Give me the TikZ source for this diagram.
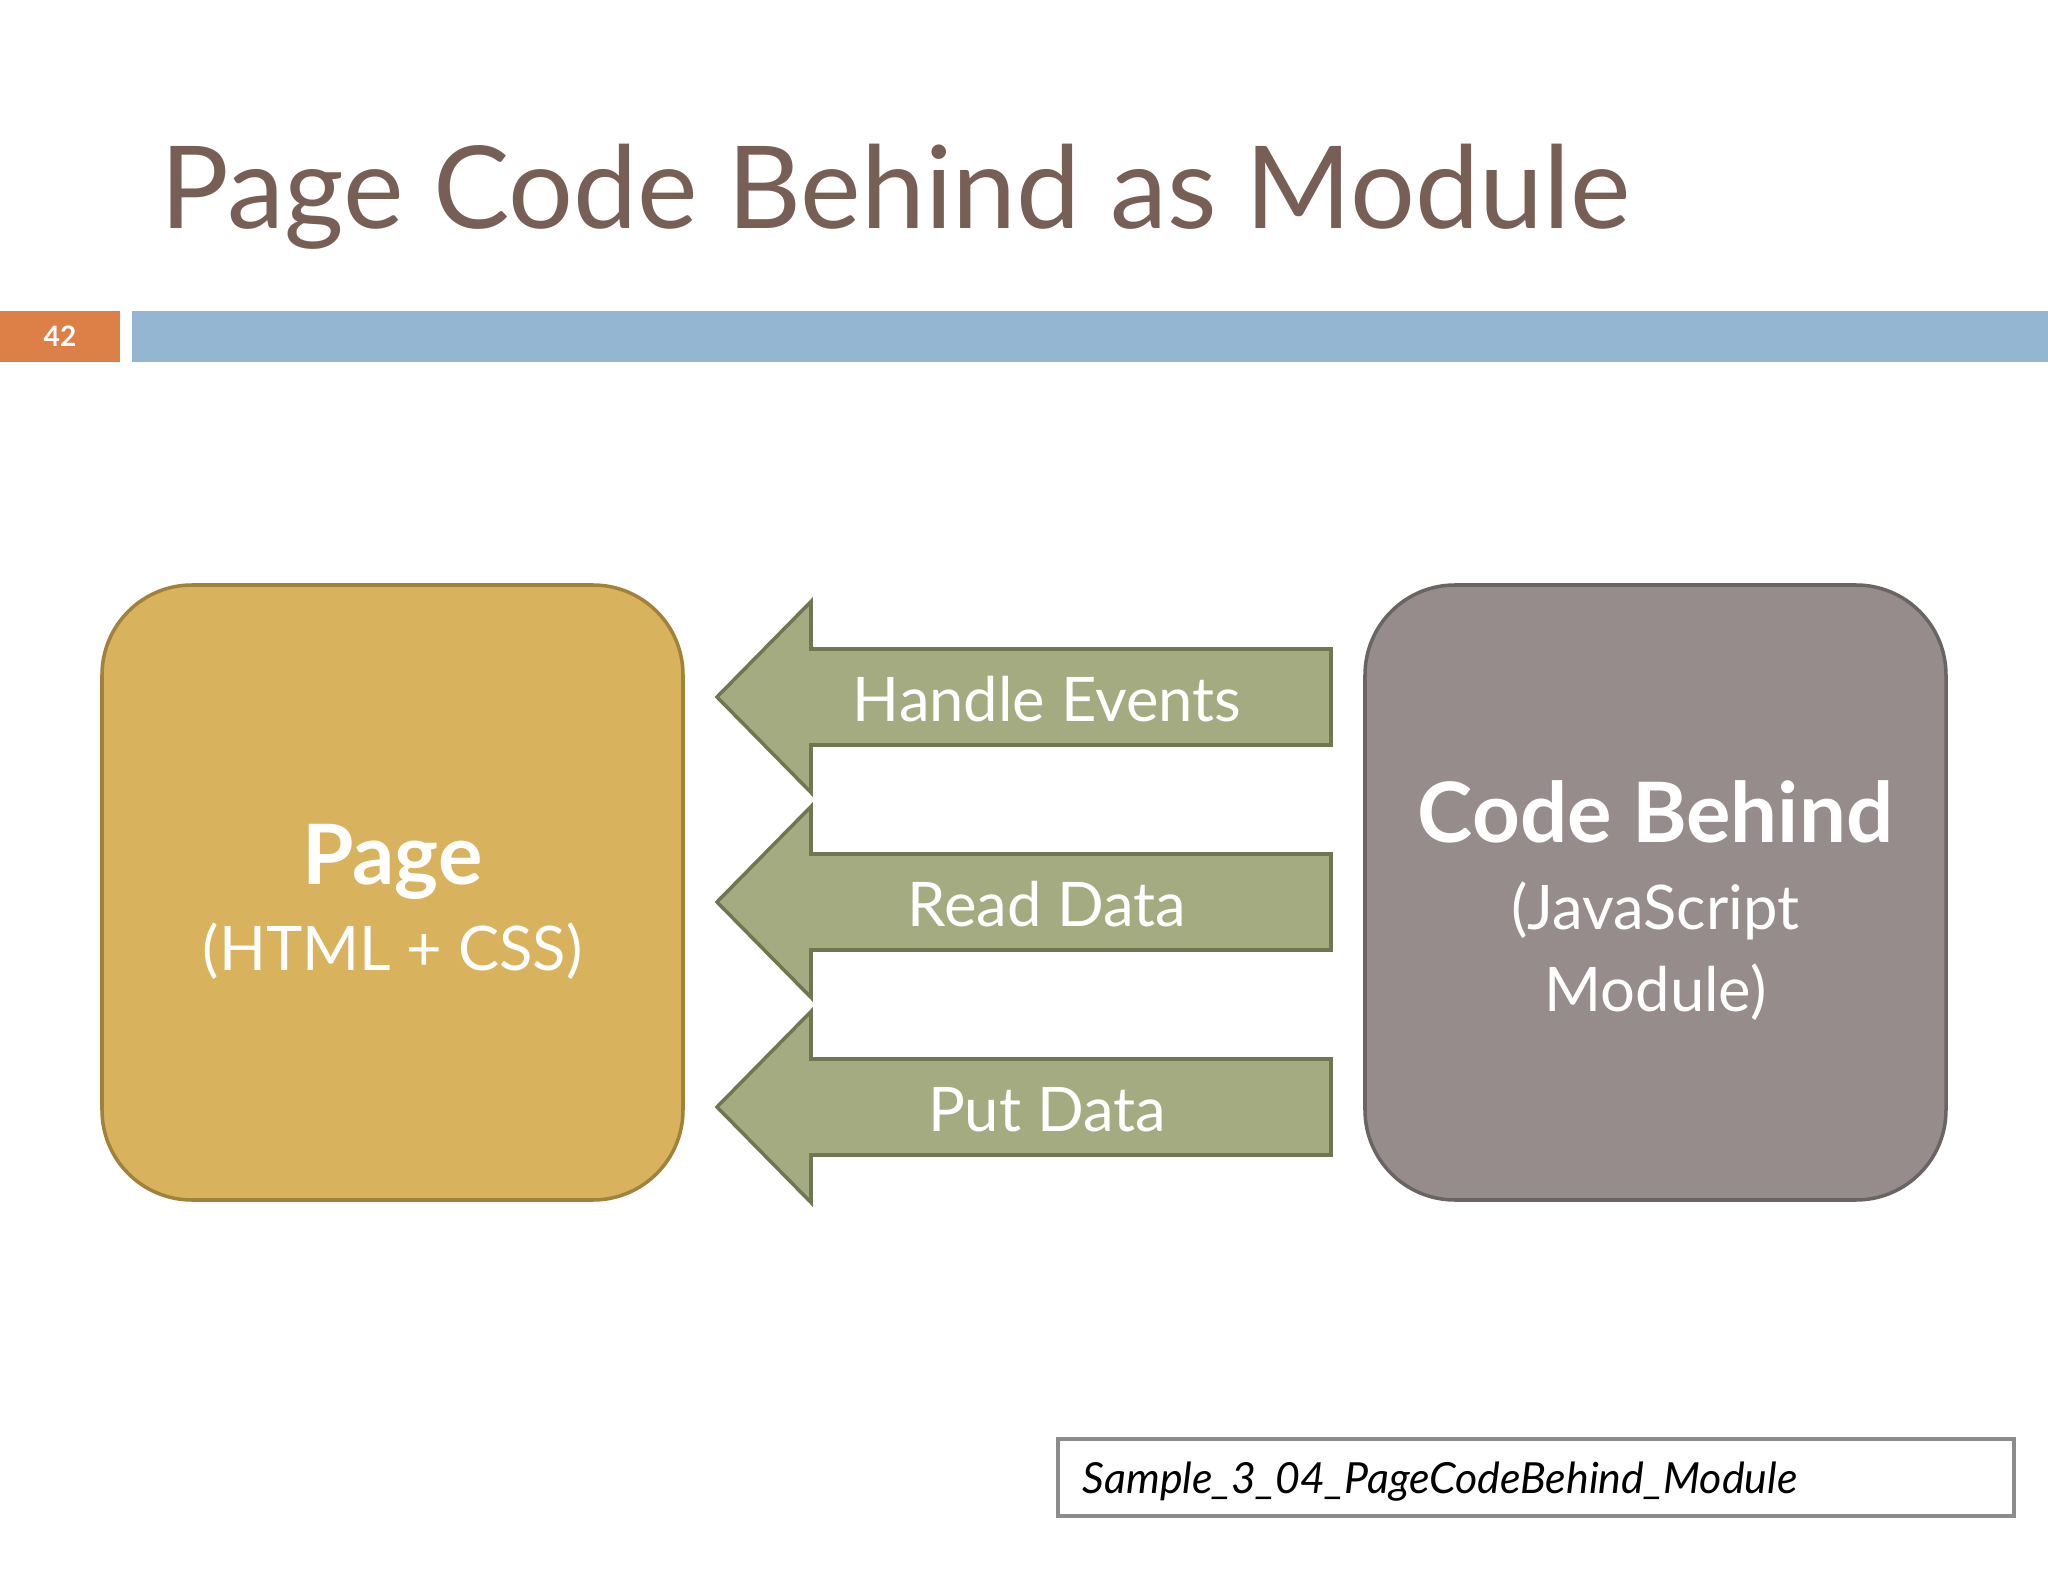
\documentclass[tikz,border=0pt]{standalone}
\usepackage{fontspec}
\setmainfont{Lato}
\definecolor{titlebrown}{HTML}{775F55}
\definecolor{numorange}{HTML}{DD8047}
\definecolor{barblue}{HTML}{94B6D2}
\definecolor{pagegold}{HTML}{D8B25C}
\definecolor{pagegoldline}{HTML}{A0823A}
\definecolor{arrowgreen}{HTML}{A5AB81}
\definecolor{arrowgreenline}{HTML}{6F7652}
\definecolor{codegrey}{HTML}{968C8C}
\definecolor{codegreyline}{HTML}{6B6464}
\tikzset{pagebox/.style = {draw=pagegoldline, fill=pagegold, line width=1pt, rectangle, rounded corners=0.9cm, minimum height=6.15cm, minimum width=5.81cm},
         codebox/.style = {draw=codegreyline, fill=codegrey, line width=1pt, rectangle, rounded corners=0.9cm, minimum height=6.15cm, minimum width=5.81cm},
         arrowshape/.style = {draw=arrowgreenline, fill=arrowgreen, line width=1pt, line join=miter},
         txt/.style = {inner sep=0pt, text=white, anchor=base},
         bigtxt/.style = {txt, font=\fontsize{23.7}{28}\selectfont\bfseries},
         midtxt/.style = {txt, font=\fontsize{17.5}{21}\selectfont}}

\begin{document}
\begin{tikzpicture}
    \useasboundingbox[fill=white](0,0) rectangle (20.48,-15.82);
    \node[inner sep=0pt, anchor=base west, text=titlebrown, font=\fontsize{32.6}{39}\selectfont](title) at (1.60,-2.29){Page Code Behind as Module};

    \node[fill=numorange, minimum width=1.20cm, minimum height=0.51cm, inner sep=0pt](num) at (0.60,-3.365){};
    \node[txt, anchor=center, font=\fontsize{8}{9}\selectfont\bfseries](numtxt) at (num.center){42};
    \node[fill=barblue, minimum width=19.16cm, minimum height=0.51cm, inner sep=0pt](bar) at (10.90,-3.365){};

    \node[pagebox](page) at (3.925,-8.925){};
    \node[bigtxt](pagename) at (3.925,-8.84){Page};
    \node[midtxt](pagesub) at (3.925,-9.70){(HTML + CSS)};

    \node[codebox](code) at (16.555,-8.925){};
    \node[bigtxt](codename) at (16.555,-8.43){Code Behind};
    \node[midtxt](codesub) at (16.555,-9.29){(JavaScript};
    \node[midtxt](codesubb) at (16.555,-10.11){Module)};

    \foreach \y/\lbl [count=\i] in {6.97/Handle Events, 9.02/Read Data, 11.07/Put Data}{
        \draw[arrowshape](7.17,-\y)--(8.11,-\y+0.955)--(8.11,-\y+0.48)--(13.31,-\y+0.48)
            --(13.31,-\y-0.48)--(8.11,-\y-0.48)--(8.11,-\y-0.955)--cycle;
        \node[midtxt](arr\i) at (10.47,-\y-0.24){\lbl};
    }

    \node[draw=black!45, line width=1pt, minimum width=9.56cm, minimum height=0.77cm, inner sep=0pt](sample) at (15.36,-14.775){};
    \node[inner sep=0pt, anchor=base west, font=\fontsize{12.2}{14}\selectfont\itshape](sampletxt) at (10.82,-14.93){Sample\_3\_04\_PageCodeBehind\_Module};
\end{tikzpicture}
\end{document}
